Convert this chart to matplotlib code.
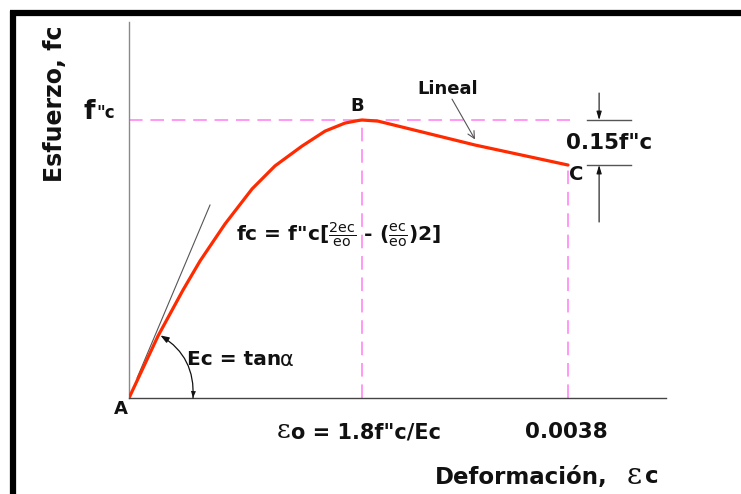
import matplotlib
matplotlib.use("Agg")
import matplotlib.pyplot as plt

# --------------------------------------------------------------------------
# Data (strain, stress as fraction of f''c)
# --------------------------------------------------------------------------
STRAIN = [0.0, 0.000251, 0.000467, 0.000615, 0.000831, 0.001065, 0.001264,
          0.001497, 0.001697, 0.001870, 0.001982, 0.002017, 0.002155,
          0.002995, 0.0038]
STRESS = [0.0, 0.223, 0.388, 0.493, 0.626, 0.752, 0.835, 0.906, 0.960,
          0.989, 0.998, 1.0, 0.996, 0.910, 0.838]

EPS_0 = 0.002017      # strain at peak (B)
EPS_U = 0.0038        # ultimate strain (C)
F_PEAK = 1.0          # f''c
F_ULT = 0.838         # stress at C

TANGENT_X = [0.00007, 0.000701]
TANGENT_Y = [0.072, 0.694]

W, H = 741, 494
RED = "#FF2A00"
PINK = "#FF99F5"
INK = "#111111"
GREY = "#555555"

plt.rcParams.update({
    "font.family": "DejaVu Sans",
    "mathtext.fontset": "dejavusans",
})

fig = plt.figure(figsize=(W / 100, H / 100), dpi=100)
fig.patch.set_facecolor("white")


def px(x, y):
    """pixel position -> figure fraction"""
    return x / W, 1 - y / H


# axes placed so x=0 sits at px 129 and the x axis at px 398
ax = fig.add_axes([129 / W, (H - 398) / H, (666 - 129) / W, (398 - 22) / H])
ax.set_xlim(0, 0.004648)
ax.set_ylim(0, 1.3525)
ax.set_xticks([])
ax.set_yticks([])
for s in ("top", "right"):
    ax.spines[s].set_visible(False)
ax.spines["left"].set_color("#8a8a8a")
ax.spines["bottom"].set_color("#444444")
ax.spines["left"].set_linewidth(1.0)
ax.spines["bottom"].set_linewidth(1.0)
ax.patch.set_alpha(0)

dash = (0, (7, 4))
ax.plot([0, EPS_U + 0.00002], [F_PEAK, F_PEAK], color=PINK, lw=1.4,
        linestyle=dash, zorder=1)
ax.plot([EPS_0, EPS_0], [0, F_PEAK], color=PINK, lw=1.4, linestyle=dash, zorder=1)
ax.plot([EPS_U, EPS_U], [0, F_ULT], color=PINK, lw=1.4, linestyle=dash, zorder=1)

# tangent (Ec)
ax.plot(TANGENT_X, TANGENT_Y, color=GREY, lw=0.8, zorder=2)

# stress-strain curve
ax.plot(STRAIN, STRESS, color=RED, lw=2.3, solid_capstyle="round",
        solid_joinstyle="round", zorder=3)

# angle arc alpha (arrowheads at both ends)
ax.annotate("", xy=(0.000272, 0.225), xytext=(0.000554, 0.0),
            arrowprops=dict(arrowstyle="-|>,head_length=0.5,head_width=0.18",
                            color=INK, lw=0.9, shrinkA=0, shrinkB=0,
                            connectionstyle="arc3,rad=0.3"))
ax.annotate("", xy=(0.000554, 0.0), xytext=(0.000272, 0.225),
            arrowprops=dict(arrowstyle="-|>,head_length=0.5,head_width=0.18",
                            color=INK, lw=0, shrinkA=0, shrinkB=0,
                            connectionstyle="arc3,rad=-0.3"))

# "Lineal" pointer
ax.annotate("", xy=(0.002995, 0.93), xytext=(0.002796, 1.075),
            arrowprops=dict(arrowstyle="->,head_length=0.5,head_width=0.25",
                            color=GREY, lw=0.8, shrinkA=0, shrinkB=0))

# 0.15 f''c dimension
xd = 0.004069
for yv in (F_PEAK, F_ULT):
    ax.plot([0.003963, 0.004345], [yv, yv], color=GREY, lw=1.0)
ax.annotate("", xy=(xd, F_PEAK), xytext=(xd, 1.097),
            arrowprops=dict(arrowstyle="-|>,head_length=0.5,head_width=0.15",
                            color=INK, lw=0.8, shrinkA=0, shrinkB=0))
ax.annotate("", xy=(xd, F_ULT), xytext=(xd, 0.633),
            arrowprops=dict(arrowstyle="-|>,head_length=0.5,head_width=0.15",
                            color=INK, lw=0.8, shrinkA=0, shrinkB=0))

# --------------------------------------------------------------------------
# text
# --------------------------------------------------------------------------
def t(x, y, s, size=12, ha="center", va="center", weight="bold", **kw):
    fig.text(*px(x, y), s, fontsize=size, ha=ha, va=va, fontweight=weight,
             color=INK, **kw)


t(55, 104, "Esfuerzo, fc", size=17, rotation=90)
t(84, 119, "f", size=19, ha="left", va="baseline")
t(96.5, 118, '"c', size=12, ha="left", va="baseline")
t(357, 106, "B", size=13)
t(448, 89, "Lineal", size=13)
t(576, 174, "C", size=14)
t(609, 143, '0.15f"c', size=15.5)
t(121, 409, "A", size=13)
t(187, 359, "Ec = tan", size=14.5, ha="left")
t(280, 360, "\u03b1", size=15, ha="left", weight="normal")
t(236, 235, r'fc = f"c[$\frac{\mathrm{2ec}}{\mathrm{eo}}$ - ($\frac{\mathrm{ec}}{\mathrm{eo}}$)2]',
  size=14.6, ha="left")
t(277, 438, "\u025b", size=19, ha="left", va="baseline", weight="normal",
  family="DejaVu Serif")
t(291, 438, 'o = 1.8f"c/Ec', size=15, ha="left", va="baseline")
t(566, 432, "0.0038", size=15.5)
t(435, 477, "Deformaci\u00f3n,", size=16.5, ha="left")
t(627, 484, "\u025b", size=21, ha="left", va="baseline", weight="normal",
  family="DejaVu Serif")
t(645, 483, "c", size=16.5, ha="left", va="baseline")

# black frame (top and left edges only visible)
fig.add_artist(plt.Line2D([px(10, 0)[0], 1.0], [px(0, 13)[1]] * 2,
                          color="black", lw=4.5, solid_capstyle="butt"))
fig.add_artist(plt.Line2D([px(13, 0)[0]] * 2, [px(0, 10.8)[1], 0.0],
                          color="black", lw=4.5, solid_capstyle="butt"))

fig.savefig("out.png", dpi=100, facecolor="white")
